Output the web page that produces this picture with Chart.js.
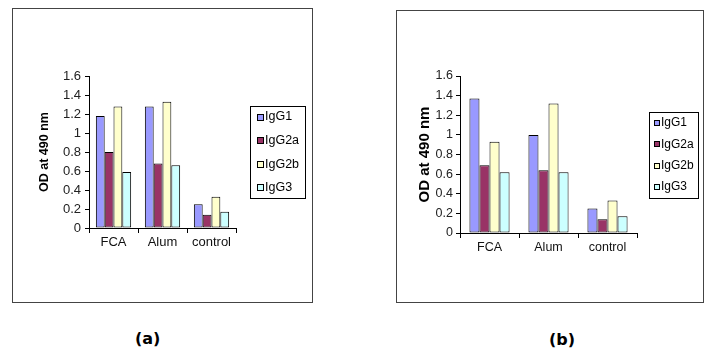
<!DOCTYPE html>
<html>
<head>
<meta charset="utf-8">
<script src="https://cdn.jsdelivr.net/npm/chart.js@4.4.0/dist/chart.umd.min.js"></script>
<style>
  body { margin: 0; background: #fff; width: 721px; height: 358px; position: relative; overflow: hidden; font-family: "Liberation Sans", Arial, sans-serif; }
  .panel { position: absolute; border: 1px solid #444; box-sizing: border-box; }
  .panel canvas { position: absolute; left: 0; top: 0; }
  .cap { position: absolute; font-family: "DejaVu Sans", Verdana, sans-serif; font-weight: bold; font-size: 16px; color: #000; }
</style>
</head>
<body>
<div class="panel" id="boxA" style="left:12px; top:8px; width:301px; height:295px;"><canvas id="chartA"></canvas></div>
<div class="panel" id="boxB" style="left:396px; top:10px; width:308px; height:293px;"><canvas id="chartB"></canvas></div>
<div class="cap" style="left:135px; top:329px;">(a)</div>
<div class="cap" style="left:549px; top:330px;">(b)</div>
<script>
// datos
const categorias = ["FCA", "Alum", "control"];
const subclases = ["IgG1", "IgG2a", "IgG2b", "IgG3"];
const colores = ["#9999FF", "#993366", "#FFFFCC", "#CCFFFF"];

// panel (a)
const igG1_a = [1.18, 1.28, 0.25];
const igG2a_a = [0.80, 0.68, 0.14];
const igG2b_a = [1.28, 1.33, 0.33];
const igG3_a = [0.59, 0.66, 0.17];

// panel (b)
const igG1_b = [1.37, 1.00, 0.25];
const igG2a_b = [0.69, 0.64, 0.14];
const igG2b_b = [0.93, 1.32, 0.33];
const igG3_b = [0.62, 0.62, 0.17];

const tituloY = "OD at 490 nm";

// leyenda con recuadro, como en Excel
const leyendaCaja = {
  id: "leyendaCaja",
  afterDraw(chart, args, opts) {
    const ctx = chart.ctx;
    ctx.save();
    ctx.strokeStyle = "#000";
    ctx.lineWidth = 1;
    ctx.strokeRect(opts.x + 0.5, opts.y + 0.5, opts.w, opts.h);
    ctx.font = opts.fs + "px 'Liberation Sans', Arial, sans-serif";
    ctx.textBaseline = "middle";
    chart.data.datasets.forEach((ds, i) => {
      const cy = opts.y0 + i * opts.gap;
      ctx.fillStyle = ds.backgroundColor;
      ctx.fillRect(opts.bx, Math.round(cy - opts.bs / 2), opts.bs, opts.bs);
      ctx.strokeRect(opts.bx + 0.5, Math.round(cy - opts.bs / 2) + 0.5, opts.bs - 1, opts.bs - 1);
      ctx.fillStyle = "#000";
      ctx.fillText(ds.label, opts.tx, cy);
    });
    ctx.restore();
  }
};

function crearGrafico(id, series, cfg) {
  const datasets = subclases.map((nombre, i) => ({
    label: nombre,
    data: series[i],
    backgroundColor: colores[i],
    borderColor: "#000",
    borderWidth: 1,
    borderSkipped: false,
    categoryPercentage: cfg.cat,
    barPercentage: 1.0
  }));

  return new Chart(document.getElementById(id), {
    type: "bar",
    data: { labels: categorias, datasets: datasets },
    options: {
      responsive: true,
      maintainAspectRatio: false,
      animation: false,
      layout: { padding: cfg.pad },
      scales: {
        x: {
          grid: { drawOnChartArea: false, tickLength: 5, color: "#000", offset: true },
          border: { color: "#000", width: 1 },
          ticks: { color: "#111", font: { size: cfg.tickSize, family: "'Liberation Sans', Arial" }, padding: 2 },
          afterFit: s => { s.height = 28; }
        },
        y: {
          min: 0,
          max: 1.6,
          grid: { drawOnChartArea: false, tickLength: 4, color: "#000" },
          border: { color: "#000", width: 1 },
          ticks: {
            stepSize: 0.2,
            color: "#222",
            padding: cfg.tickPad,
            font: { size: cfg.tickSize, family: "'Liberation Sans', Arial" },
            callback: v => String(Number(v.toFixed(1)))
          },
          title: {
            display: true,
            text: tituloY,
            color: "#000",
            font: { size: cfg.titleSize, weight: "bold", family: "'Liberation Sans', Arial" }
          },
          afterFit: s => { s.width = cfg.yWidth; }
        }
      },
      plugins: {
        legend: { display: false },
        tooltip: { enabled: false },
        leyendaCaja: cfg.leyenda
      }
    },
    plugins: [leyendaCaja]
  });
}

crearGrafico("chartA", [igG1_a, igG2a_a, igG2b_a, igG3_a], {
  cat: 0.72,
  tickSize: 13,
  tickPad: 4,
  titleSize: 12.5,
  yWidth: 56,
  pad: { left: 20, top: 67, right: 76, bottom: 46 },
  leyenda: { x: 237, y: 97, w: 55, h: 92, y0: 108, gap: 23.6, bx: 244, bs: 7, tx: 252, fs: 12.5 }
});

crearGrafico("chartB", [igG1_b, igG2a_b, igG2b_b, igG3_b], {
  cat: 0.68,
  tickSize: 12.5,
  tickPad: 3,
  titleSize: 15,
  yWidth: 48,
  pad: { left: 15, top: 65, right: 66, bottom: 41 },
  leyenda: { x: 252, y: 101, w: 49, h: 86, y0: 112, gap: 21.3, bx: 257, bs: 6, tx: 264, fs: 12 }
});
</script>
</body>
</html>
